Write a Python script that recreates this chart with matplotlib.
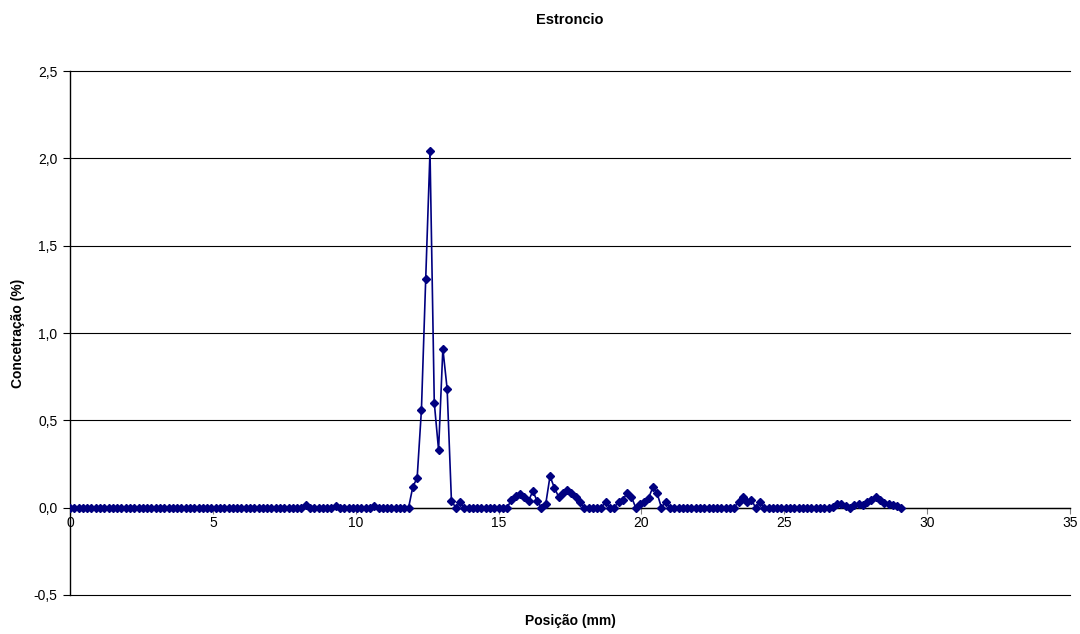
import matplotlib
matplotlib.use("Agg")
import matplotlib.pyplot as plt
import numpy as np
from matplotlib.ticker import FuncFormatter, MultipleLocator

plt.rcParams['font.family'] = ['Liberation Sans', 'DejaVu Sans']

# posição (mm): passo de 0,15 mm, de 0 a 29,1
passo = 0.15
n_pontos = 195
posicao = np.round(np.arange(n_pontos) * passo, 2)

# concentração de estrôncio (%)
concentracao = [
    0, 0, 0, 0, 0, 0, 0, 0, 0, 0, 0, 0, 0, 0, 0,
    0, 0, 0, 0, 0, 0, 0, 0, 0, 0, 0, 0, 0, 0, 0,
    0, 0, 0, 0, 0, 0, 0, 0, 0, 0, 0, 0, 0, 0, 0,
    0, 0, 0, 0, 0, 0, 0, 0, 0, 0, 0.015, 0, 0, 0, 0,
    0, 0, 0.012, 0, 0, 0, 0, 0, 0, 0, 0, 0.01, 0, 0, 0,
    0, 0, 0, 0, 0, 0.12, 0.17, 0.56, 1.31, 2.04, 0.60, 0.33, 0.91, 0.68, 0.04,
    0, 0.03, 0, 0, 0, 0, 0, 0, 0, 0, 0, 0, 0, 0.045, 0.065,
    0.08, 0.063, 0.04, 0.095, 0.038, 0, 0.02, 0.18, 0.115, 0.063, 0.085, 0.10, 0.085, 0.063, 0.03,
    0, 0, 0, 0, 0, 0.035, 0, 0, 0.035, 0.044, 0.085, 0.062, 0, 0.02, 0.035,
    0.055, 0.117, 0.082, 0, 0.035, 0, 0, 0, 0, 0, 0, 0, 0, 0, 0,
    0, 0, 0, 0, 0, 0, 0.035, 0.063, 0.035, 0.044, 0, 0.03, 0, 0, 0,
    0, 0, 0, 0, 0, 0, 0, 0, 0, 0, 0, 0, 0, 0.005, 0.02,
    0.02, 0.01, 0, 0.015, 0.02, 0.015, 0.03, 0.045, 0.06, 0.045, 0.025, 0.02, 0.015, 0.01, 0,
]

fig = plt.figure(figsize=(10.8, 6.34), dpi=100)
ax = fig.add_axes([70 / 1080, 1 - 595 / 634, 1000 / 1080, 524 / 634])

ax.plot(posicao, concentracao, color='#000080', linewidth=1.2,
        marker='D', markersize=4.5, zorder=3)

ax.set_xlim(0, 35)
ax.set_ylim(-0.5, 2.5)
ax.xaxis.set_major_locator(MultipleLocator(5))
ax.yaxis.set_major_locator(MultipleLocator(0.5))
ax.yaxis.set_major_formatter(FuncFormatter(lambda v, p: f"{v:.1f}".replace('.', ',')))

# grade horizontal estilo Excel
ax.grid(axis='y', color='black', linewidth=0.8)
ax.set_axisbelow(True)
for linha in ax.get_ygridlines():
    linha.set_clip_on(False)

ax.spines['top'].set_visible(False)
ax.spines['right'].set_visible(False)
ax.spines['bottom'].set_position(('data', 0))
ax.spines['left'].set_linewidth(1.0)
ax.spines['bottom'].set_linewidth(1.0)

ax.tick_params(axis='y', direction='out', length=5, labelsize=10, pad=4)
ax.tick_params(axis='x', direction='out', length=4, labelsize=10, pad=2,
               color='#808080')

fig.text(570 / 1080, 1 - 20 / 634, 'Estroncio', ha='center', va='center',
         fontsize=10.5, fontweight='bold')
fig.text(570 / 1080, 1 - 621 / 634, 'Posição (mm)', ha='center', va='center',
         fontsize=10, fontweight='bold')
fig.text(18 / 1080, 1 - 333 / 634, 'Concetração (%)', ha='center', va='center',
         rotation=90, fontsize=10, fontweight='bold')

fig.savefig('out.png', dpi=100)
